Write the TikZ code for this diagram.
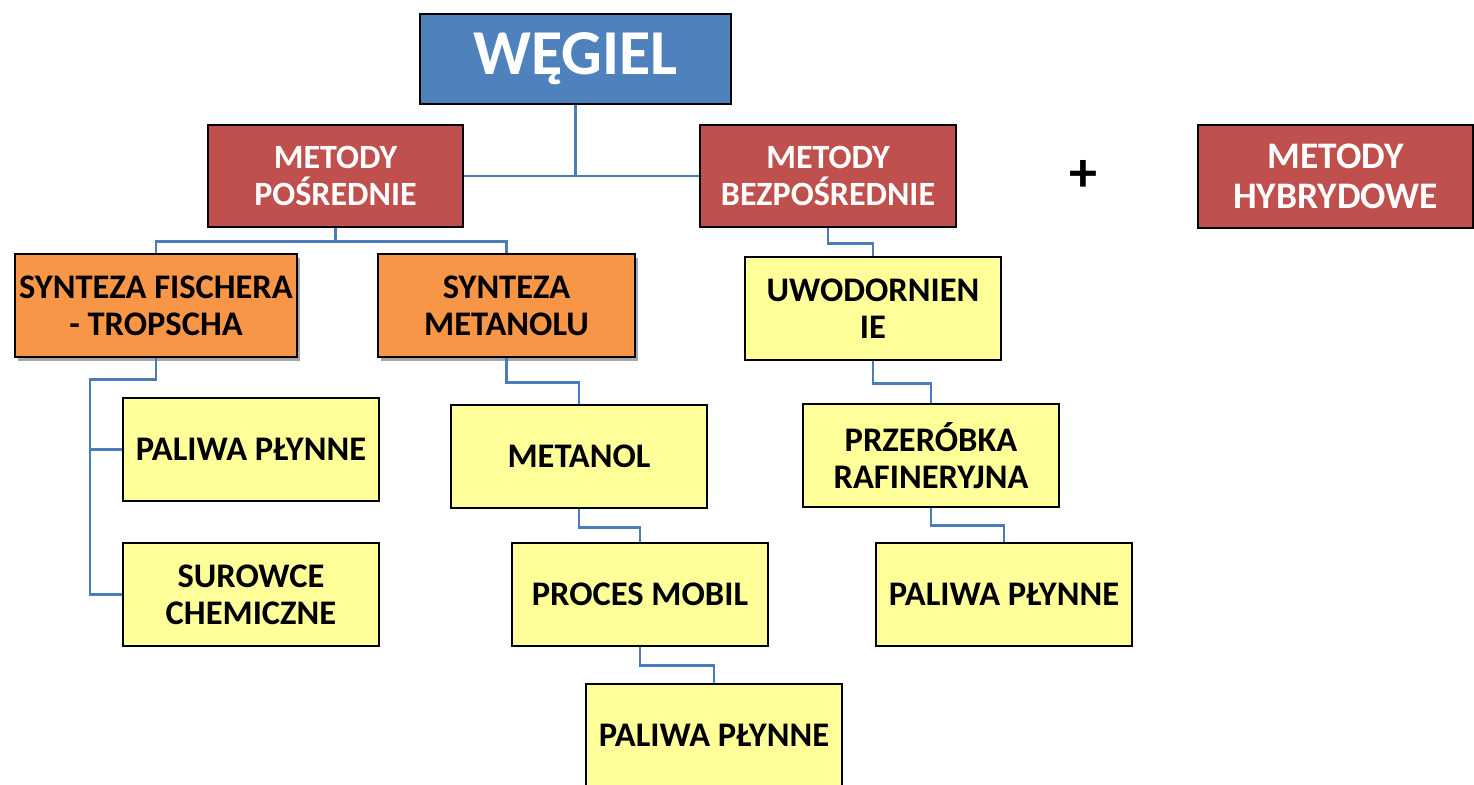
\documentclass[tikz,border=0pt]{standalone}
\usepackage{fontspec}
\setmainfont{Carlito}
\usetikzlibrary{shadows}
\definecolor{cblue}{HTML}{4F81BD}
\definecolor{cred}{HTML}{C0504D}
\definecolor{corange}{HTML}{F79646}
\definecolor{cyellow}{HTML}{FFFF99}
\definecolor{cline}{HTML}{4A7EBB}
\tikzset{
  box/.style={draw=black, line width=2.5pt, rectangle, inner sep=0pt, align=center,
    font=\fontsize{34.5}{37}\selectfont\bfseries, text=black},
  topbox/.style={box, fill=cblue, text=white, font=\fontsize{64}{70}\selectfont\bfseries},
  redbox/.style={box, fill=cred, text=white, font=\fontsize{34}{37}\selectfont\bfseries},
  orbox/.style={box, fill=corange, drop shadow={shadow xshift=3pt, shadow yshift=-4pt, opacity=0.35, fill=black}},
  yelbox/.style={box, fill=cyellow},
  conn/.style={draw=cline, line width=2.5pt}
}
\begin{document}
\begin{tikzpicture}[x=1pt,y=-1pt]
\useasboundingbox[fill=white] (0,0) rectangle (1474,784);
% level 0
\node[topbox, minimum width=311pt, minimum height=90pt] (wegiel) at (575.5,59) {WĘGIEL};
% level 1
\node[redbox, minimum width=255pt, minimum height=102pt] (posr) at (335.5,176) {METODY\\POŚREDNIE};
\node[redbox, minimum width=256pt, minimum height=102pt] (bezp) at (828,176) {METODY\\BEZPOŚREDNIE};
\node[redbox, font=\fontsize{37.5}{40}\selectfont\bfseries, minimum width=275pt, minimum height=103pt] (hybr) at (1335.5,176.5) {METODY\\HYBRYDOWE};
\node[font=\fontsize{56}{60}\selectfont\bfseries] (plus) at (1083,176) {+};
% level 2
\node[orbox, minimum width=282pt, minimum height=103pt] (fischer) at (156,305.5) {SYNTEZA FISCHERA\\- TROPSCHA};
\node[orbox, minimum width=257pt, minimum height=103pt] (metanolu) at (506.5,305.5) {SYNTEZA\\METANOLU};
\node[yelbox, minimum width=256pt, minimum height=103pt] (uwod) at (873,308.5) {UWODORNIEN\\IE};
% level 3
\node[yelbox, minimum width=256pt, minimum height=103pt] (pal1) at (251,449.5) {PALIWA PŁYNNE};
\node[yelbox, minimum width=256pt, minimum height=103pt] (surow) at (251,594.5) {SUROWCE\\CHEMICZNE};
\node[yelbox, minimum width=256pt, minimum height=103pt] (metanol) at (579,456.5) {METANOL};
\node[yelbox, minimum width=256pt, minimum height=103pt] (przer) at (931,455.5) {PRZERÓBKA\\RAFINERYJNA};
% level 4
\node[yelbox, minimum width=256pt, minimum height=103pt] (mobil) at (640,594.5) {PROCES MOBIL};
\node[yelbox, minimum width=256pt, minimum height=103pt] (pal2) at (1004,594.5) {PALIWA PŁYNNE};
% level 5
\node[yelbox, minimum width=256pt, minimum height=103pt] (pal3) at (714,735.5) {PALIWA PŁYNNE};
% connectors
\draw[conn] (wegiel.south) -- (wegiel.south |- posr.east);
\draw[conn] (posr.east) -- (bezp.west);
\draw[conn] (posr.south) -- ++(0,13) -| (fischer.north);
\draw[conn] (posr.south) -- ++(0,13) -| (metanolu.north);
\draw[conn] (bezp.south) -- ++(0,15) -| (uwod.north);
\draw[conn] (fischer.south) -- ++(0,21) -| ([xshift=-32pt]surow.west) -- (surow.west);
\draw[conn] ([xshift=-32pt]pal1.west) -- (pal1.west);
\draw[conn] (metanolu.south) -- ++(0,24) -| (metanol.north);
\draw[conn] (uwod.south) -- ++(0,22) -| (przer.north);
\draw[conn] (metanol.south) -- ++(0,18) -| (mobil.north);
\draw[conn] (przer.south) -- ++(0,17) -| (pal2.north);
\draw[conn] (mobil.south) -- ++(0,18) -| (pal3.north);
\end{tikzpicture}
\end{document}
